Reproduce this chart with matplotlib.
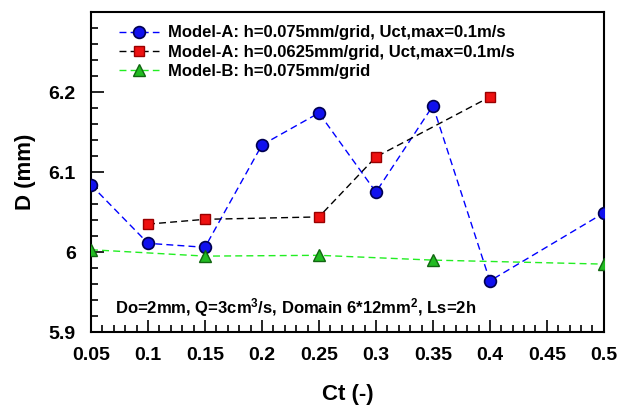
import numpy as np
import matplotlib
matplotlib.use('Agg')
import matplotlib.pyplot as plt
from matplotlib.ticker import MultipleLocator, FixedLocator

plt.rcParams['font.family'] = ['Liberation Sans', 'DejaVu Sans']
plt.rcParams['font.weight'] = 'bold'
plt.rcParams['mathtext.fontset'] = 'custom'
plt.rcParams['mathtext.bf'] = 'Liberation Sans:bold'
plt.rcParams['mathtext.rm'] = 'Liberation Sans:bold'
plt.rcParams['mathtext.default'] = 'bf'

# data
ct_a1 = [0.05, 0.1, 0.15, 0.2, 0.25, 0.3, 0.35, 0.4, 0.5]
d_a1 = [6.084, 6.011, 6.006, 6.134, 6.174, 6.075, 6.183, 5.964, 6.049]

ct_a2 = [0.1, 0.15, 0.25, 0.3, 0.4]
d_a2 = [6.035, 6.041, 6.044, 6.119, 6.194]

ct_b = [0.05, 0.15, 0.25, 0.35, 0.5]
d_b = [6.003, 5.995, 5.996, 5.990, 5.985]

labels = ['Model-A: h=0.075mm/grid, Uct,max=0.1m/s',
          'Model-A: h=0.0625mm/grid, Uct,max=0.1m/s',
          'Model-B: h=0.075mm/grid']
x_ticks = [0.05, 0.1, 0.15, 0.2, 0.25, 0.3, 0.35, 0.4, 0.45, 0.5]
x_ticklabels = ['0.05', '0.1', '0.15', '0.2', '0.25', '0.3', '0.35', '0.4', '0.45', '0.5']
y_ticks = [5.9, 6.0, 6.1, 6.2]
y_ticklabels = ['5.9', '6', '6.1', '6.2']

fig = plt.figure(figsize=(6.35, 4.05), dpi=100)
ax = fig.add_axes([0.1433, 0.180, 0.8077, 0.790])

ax.plot(ct_a1, d_a1, '--', color='blue', lw=1, dashes=(5, 3), marker='o', ms=8.5,
        mfc='#1010ee', mec='#000050', mew=1.2, label=labels[0], zorder=3)
ax.plot(ct_a2, d_a2, '--', color='black', lw=1, dashes=(5, 3), marker='s', ms=7,
        mfc='#ee1111', mec='#990000', mew=1, label=labels[1], zorder=3)
ax.plot(ct_b, d_b, '--', color='#22ee22', lw=1, dashes=(5, 3), marker='^', ms=8,
        mfc='#22bb22', mec='#116611', mew=1, label=labels[2], zorder=3)

ax.set_xlim(0.05, 0.5)
ax.set_ylim(5.9, 6.3)
ax.xaxis.set_major_locator(FixedLocator(x_ticks))
ax.set_xticklabels(x_ticklabels)
ax.xaxis.set_minor_locator(MultipleLocator(0.01))
ax.yaxis.set_major_locator(FixedLocator(y_ticks))
ax.set_yticklabels(y_ticklabels)
ax.yaxis.set_minor_locator(MultipleLocator(0.02))
ax.tick_params(which='both', direction='in', top=False, right=False, width=1.2)
ax.tick_params(which='major', length=9, labelsize=14, pad=11)
ax.tick_params(which='minor', length=5)
for s in ax.spines.values():
    s.set_linewidth(1.5)

ax.set_xlabel('Ct (-)', fontsize=16, fontweight='bold', labelpad=14)
ax.set_ylabel('D (mm)', fontsize=16, fontweight='bold', labelpad=9)

ax.text(0.047, 0.06, 'Do=2mm, Q=3cm$^3$/s, Domain 6*12mm$^2$, Ls=2h', transform=ax.transAxes,
        fontsize=12, fontweight='bold')

ax.legend(loc='upper left', frameon=False, fontsize=12, handlelength=2.4,
          borderaxespad=0.2, labelspacing=0.25, handletextpad=0.5,
          bbox_to_anchor=(0.036, 0.99))

fig.savefig('out.png', dpi=100)
